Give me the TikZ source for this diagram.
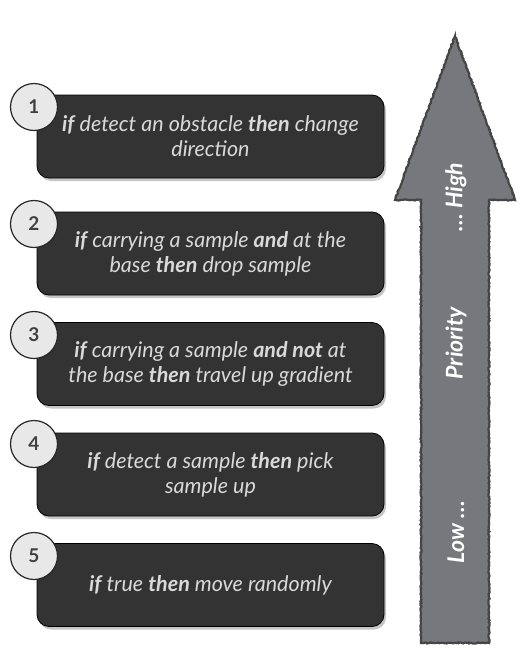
\documentclass[tikz,border=0pt]{standalone}
\usepackage{fontspec}
\setmainfont{Lato}
\usetikzlibrary{shadows,decorations.pathmorphing}

\definecolor{boxgray}{HTML}{333333}
\definecolor{textgray}{HTML}{D9D9D9}
\definecolor{circlegray}{HTML}{E8E8E8}
\definecolor{arrowgray}{HTML}{77787D}
\definecolor{edgegray}{HTML}{454545}

\tikzset{
  rulebox/.style={draw=black, line width=0.8pt, fill=boxgray, rounded corners=12pt,
    minimum width=347pt, minimum height=83pt, align=center, text=textgray,
    font=\fontsize{21.5}{25}\selectfont\itshape,
    drop shadow={shadow xshift=2pt, shadow yshift=-3pt, opacity=0.45}},
  numcircle/.style={circle, draw=black!85, line width=1.2pt, fill=circlegray,
    minimum size=47pt, inner sep=0pt, text=black!75,
    font=\fontsize{19}{19}\selectfont\bfseries},
  arrowlabel/.style={rotate=90, text=white,
    font=\fontsize{23}{23}\selectfont\bfseries\itshape},
}

\begin{document}
\begin{tikzpicture}[x=1pt,y=-1pt]
\useasboundingbox (0,0) rectangle (529,659);
% priority arrow
\fill[arrowgray] (421,643) -- (421,200) -- (395,200) -- (455,36) -- (515,200) -- (489,200) -- (489,643) -- cycle;
\draw[edgegray, line width=2.2pt, decorate, decoration={random steps, segment length=1.5pt, amplitude=0.6pt}]
  (421,643) -- (421,200) -- (395,200) -- (455,36) -- (515,200) -- (489,200) -- (489,643) -- cycle;
\node[arrowlabel] (low) at (456,532) {Low \dots};
\node[arrowlabel] (prio) at (456,343) {Priority};
\node[arrowlabel] (high) at (456,197) {\dots\ High};
% rules
\node[rulebox] (box1) at (210.5,136.5) {\textbf{if} detect an obstacle \textbf{then} change\\direction};
\node[rulebox] (box2) at (210.5,253.5) {\textbf{if} carrying a sample \textbf{and} at the\\base \textbf{then} drop sample};
\node[rulebox] (box3) at (210.5,364) {\textbf{if} carrying a sample \textbf{and not} at\\the base \textbf{then} travel up gradient};
\node[rulebox] (box4) at (210.5,474.5) {\textbf{if} detect a sample \textbf{then} pick\\sample up};
\node[rulebox] (box5) at (210.5,585) {\textbf{if} true \textbf{then} move randomly};
\node[numcircle] (num1) at (34,107) {1};
\node[numcircle] (num2) at (34,224) {2};
\node[numcircle] (num3) at (34,335) {3};
\node[numcircle] (num4) at (34,444) {4};
\node[numcircle] (num5) at (34,556) {5};
\end{tikzpicture}
\end{document}
